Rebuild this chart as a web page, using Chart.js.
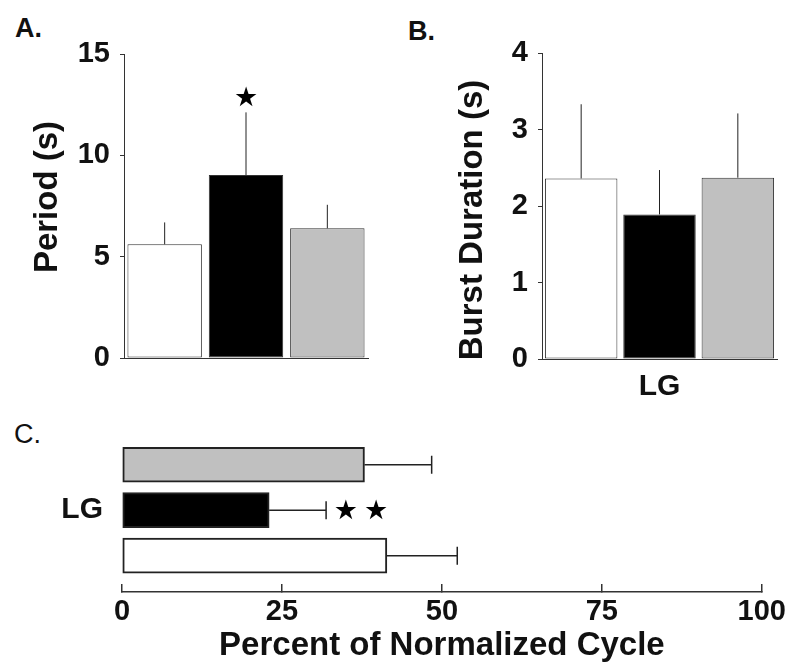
<!DOCTYPE html>
<html>
<head>
<meta charset="utf-8">
<script src="https://cdn.jsdelivr.net/npm/chart.js@4.4.1/dist/chart.umd.min.js"></script>
<style>
  body { margin: 0; background: #fff; }
  #wrap { position: relative; width: 797px; height: 666px; overflow: hidden; background: #fff; }
  canvas { position: absolute; }
  .panel { position: absolute; font-family: "Liberation Sans", Arial, sans-serif; font-size: 27px; line-height: 27px; font-weight: bold; color: #111; }
</style>
</head>
<body>
<div id="wrap">
  <div class="panel" style="left:15px; top:15px;">A.</div>
  <div class="panel" style="left:408px; top:18px;">B.</div>
  <div class="panel" style="left:14px; top:421px; font-weight:normal;">C.</div>
  <canvas id="chartA" width="400" height="420" style="left:0; top:0;"></canvas>
  <canvas id="chartB" width="397" height="420" style="left:400px; top:0;"></canvas>
  <canvas id="chartC" width="797" height="266" style="left:0; top:400px;"></canvas>
</div>
<script>
// three conditions, same order and fill in every panel
const conditions = ['cond1', 'cond2', 'cond3'];
const barFills = ['#ffffff', '#000000', '#c0c0c0'];

// A: cycle period (s), mean and SD
const periodMean = [5.61, 9.03, 6.40];
const periodErr = [1.08, 3.09, 1.16];
const periodTicks = [0, 5, 10, 15];
const periodStars = [{ x: 1, y: 12.8 }];

// B: burst duration (s)
const burstMean = [2.36, 1.89, 2.37];
const burstErr = [0.97, 0.58, 0.84];
const burstTicks = [0, 1, 2, 3, 4];

// C: burst as percent of normalized cycle (row 0 at the bottom)
const cycleMean = [41.4, 23.0, 37.9];
const cycleErr = [11.0, 8.9, 10.5];
const cycleTicks = [0, 25, 50, 75, 100];
const cycleRowLabel = 'LG';
const cycleStars = [{ x: 35.0, y: 0.95 }, { x: 39.7, y: 0.95 }];

const FONT = '"Liberation Sans", Arial, sans-serif';
Chart.defaults.font.family = FONT;
Chart.defaults.color = '#111';

// SD whiskers drawn from the end of each bar
const errorBars = {
    id: 'errorBars',
    afterDatasetsDraw(chart, args, opts) {
        if (!opts.errors) return;
        const horizontal = chart.options.indexAxis === 'y';
        const valueScale = horizontal ? chart.scales.x : chart.scales.y;
        const ctx = chart.ctx;
        ctx.save();
        ctx.strokeStyle = opts.color || '#111';
        ctx.lineWidth = opts.lineWidth || 1;
        chart.getDatasetMeta(0).data.forEach((bar, i) => {
            const end = valueScale.getPixelForValue(opts.means[i] + opts.errors[i]);
            ctx.beginPath();
            if (horizontal) {
                ctx.moveTo(bar.x, bar.y);
                ctx.lineTo(end, bar.y);
                if (opts.cap) {
                    ctx.moveTo(end, bar.y - opts.cap);
                    ctx.lineTo(end, bar.y + opts.cap);
                }
            } else {
                ctx.moveTo(bar.x, bar.y);
                ctx.lineTo(bar.x, end);
            }
            ctx.stroke();
        });
        ctx.restore();
    }
};

// significance stars placed in data coordinates
const starMarks = {
    id: 'starMarks',
    afterDatasetsDraw(chart, args, opts) {
        if (!opts.points) return;
        const ctx = chart.ctx;
        ctx.save();
        ctx.font = opts.font || '27px "DejaVu Sans"';
        ctx.fillStyle = '#000';
        ctx.textAlign = 'center';
        ctx.textBaseline = 'middle';
        opts.points.forEach(p => {
            ctx.fillText('\u2605', chart.scales.x.getPixelForValue(p.x), chart.scales.y.getPixelForValue(p.y));
        });
        ctx.restore();
    }
};

// rotated y-axis title, nudged along the axis with `shift`
const sideTitle = {
    id: 'sideTitle',
    afterDraw(chart, args, opts) {
        if (!opts.text) return;
        const s = chart.scales.y;
        const ctx = chart.ctx;
        ctx.save();
        ctx.font = 'bold ' + opts.size + 'px ' + FONT;
        ctx.fillStyle = '#111';
        ctx.textAlign = 'center';
        ctx.textBaseline = 'middle';
        ctx.translate(s.left + opts.inset, (s.top + s.bottom) / 2 + opts.shift);
        ctx.rotate(-Math.PI / 2);
        ctx.fillText(opts.text, 0, 0);
        ctx.restore();
    }
};

Chart.register(errorBars, starMarks, sideTitle);

function setTicks(values) {
    return scale => { scale.ticks = values.map(v => ({ value: v })); };
}

function columnChart(id, means, errors, ticks, opts) {
    return new Chart(document.getElementById(id), {
        type: 'bar',
        data: {
            labels: conditions,
            datasets: [{
                data: means,
                backgroundColor: barFills,
                borderColor: '#333',
                borderWidth: 1,
                borderSkipped: false,
                barPercentage: opts.barPercentage,
                categoryPercentage: 1
            }]
        },
        options: {
            responsive: false,
            animation: false,
            layout: { padding: { top: opts.top, right: opts.right, left: 0, bottom: 0 } },
            plugins: {
                legend: { display: false },
                tooltip: { enabled: false },
                errorBars: { means: means, errors: errors, lineWidth: 1, color: '#222' },
                starMarks: { points: opts.stars },
                sideTitle: { text: opts.yTitle, size: 33, inset: opts.yTitleInset, shift: opts.yTitleShift }
            },
            scales: {
                x: {
                    grid: { display: false },
                    border: { color: '#333', width: 1 },
                    ticks: { display: false },
                    title: opts.xTitle ? {
                        display: true,
                        text: opts.xTitle,
                        font: { size: 30, weight: 'bold' },
                        padding: { top: 0, bottom: opts.xTitlePad }
                    } : { display: false },
                    afterFit: s => { s.height = opts.xHeight; }
                },
                y: {
                    min: ticks[0],
                    max: ticks[ticks.length - 1],
                    afterBuildTicks: setTicks(ticks),
                    grid: { display: true, drawOnChartArea: false, tickLength: 4, color: '#333' },
                    border: { color: '#333', width: 1 },
                    ticks: { font: { size: 29, weight: 'bold' }, color: '#111', padding: 10 },
                    afterFit: s => { s.width = opts.yWidth; }
                }
            }
        }
    });
}

columnChart('chartA', periodMean, periodErr, periodTicks, {
    barPercentage: 0.915, top: 54, right: 32, xHeight: 62, yWidth: 124,
    yTitle: 'Period (s)', yTitleInset: 48, yTitleShift: -9, stars: periodStars
});

columnChart('chartB', burstMean, burstErr, burstTicks, {
    barPercentage: 0.925, top: 53, right: 20, xHeight: 61, yWidth: 142,
    yTitle: 'Burst Duration (s)', yTitleInset: 73, yTitleShift: 14,
    xTitle: 'LG', xTitlePad: 15
});

new Chart(document.getElementById('chartC'), {
    type: 'bar',
    data: {
        datasets: [{
            data: cycleMean.map((v, i) => ({ x: v, y: i })),
            backgroundColor: barFills,
            borderColor: '#222',
            borderWidth: 2,
            borderSkipped: false,
            barThickness: 35
        }]
    },
    options: {
        indexAxis: 'y',
        responsive: false,
        animation: false,
        layout: { padding: { top: 42, right: 33, left: 0, bottom: 0 } },
        plugins: {
            legend: { display: false },
            tooltip: { enabled: false },
            errorBars: { means: cycleMean, errors: cycleErr, lineWidth: 1.5, color: '#222', cap: 9 },
            starMarks: { points: cycleStars }
        },
        scales: {
            x: {
                type: 'linear',
                min: 0,
                max: 100,
                afterBuildTicks: setTicks(cycleTicks),
                grid: { display: true, drawOnChartArea: false, tickLength: -8, color: '#333', lineWidth: 1.5 },
                border: { color: '#333', width: 1.5 },
                ticks: { font: { size: 29, weight: 'bold' }, color: '#111', padding: 11 },
                title: {
                    display: true,
                    text: 'Percent of Normalized Cycle',
                    font: { size: 33, weight: 'bold' },
                    padding: { top: 0, bottom: 0 }
                },
                afterFit: s => { s.height = 74; }
            },
            y: {
                type: 'linear',
                min: -0.8,
                max: 2.5,
                offset: false,
                afterBuildTicks: setTicks([1]),
                grid: { display: false, offset: false },
                border: { display: false },
                ticks: {
                    font: { size: 30, weight: 'bold' },
                    color: '#111',
                    padding: 11,
                    callback: v => (v === 1 ? cycleRowLabel : '')
                },
                afterFit: s => { s.width = 122; }
            }
        }
    }
});
</script>
</body>
</html>
